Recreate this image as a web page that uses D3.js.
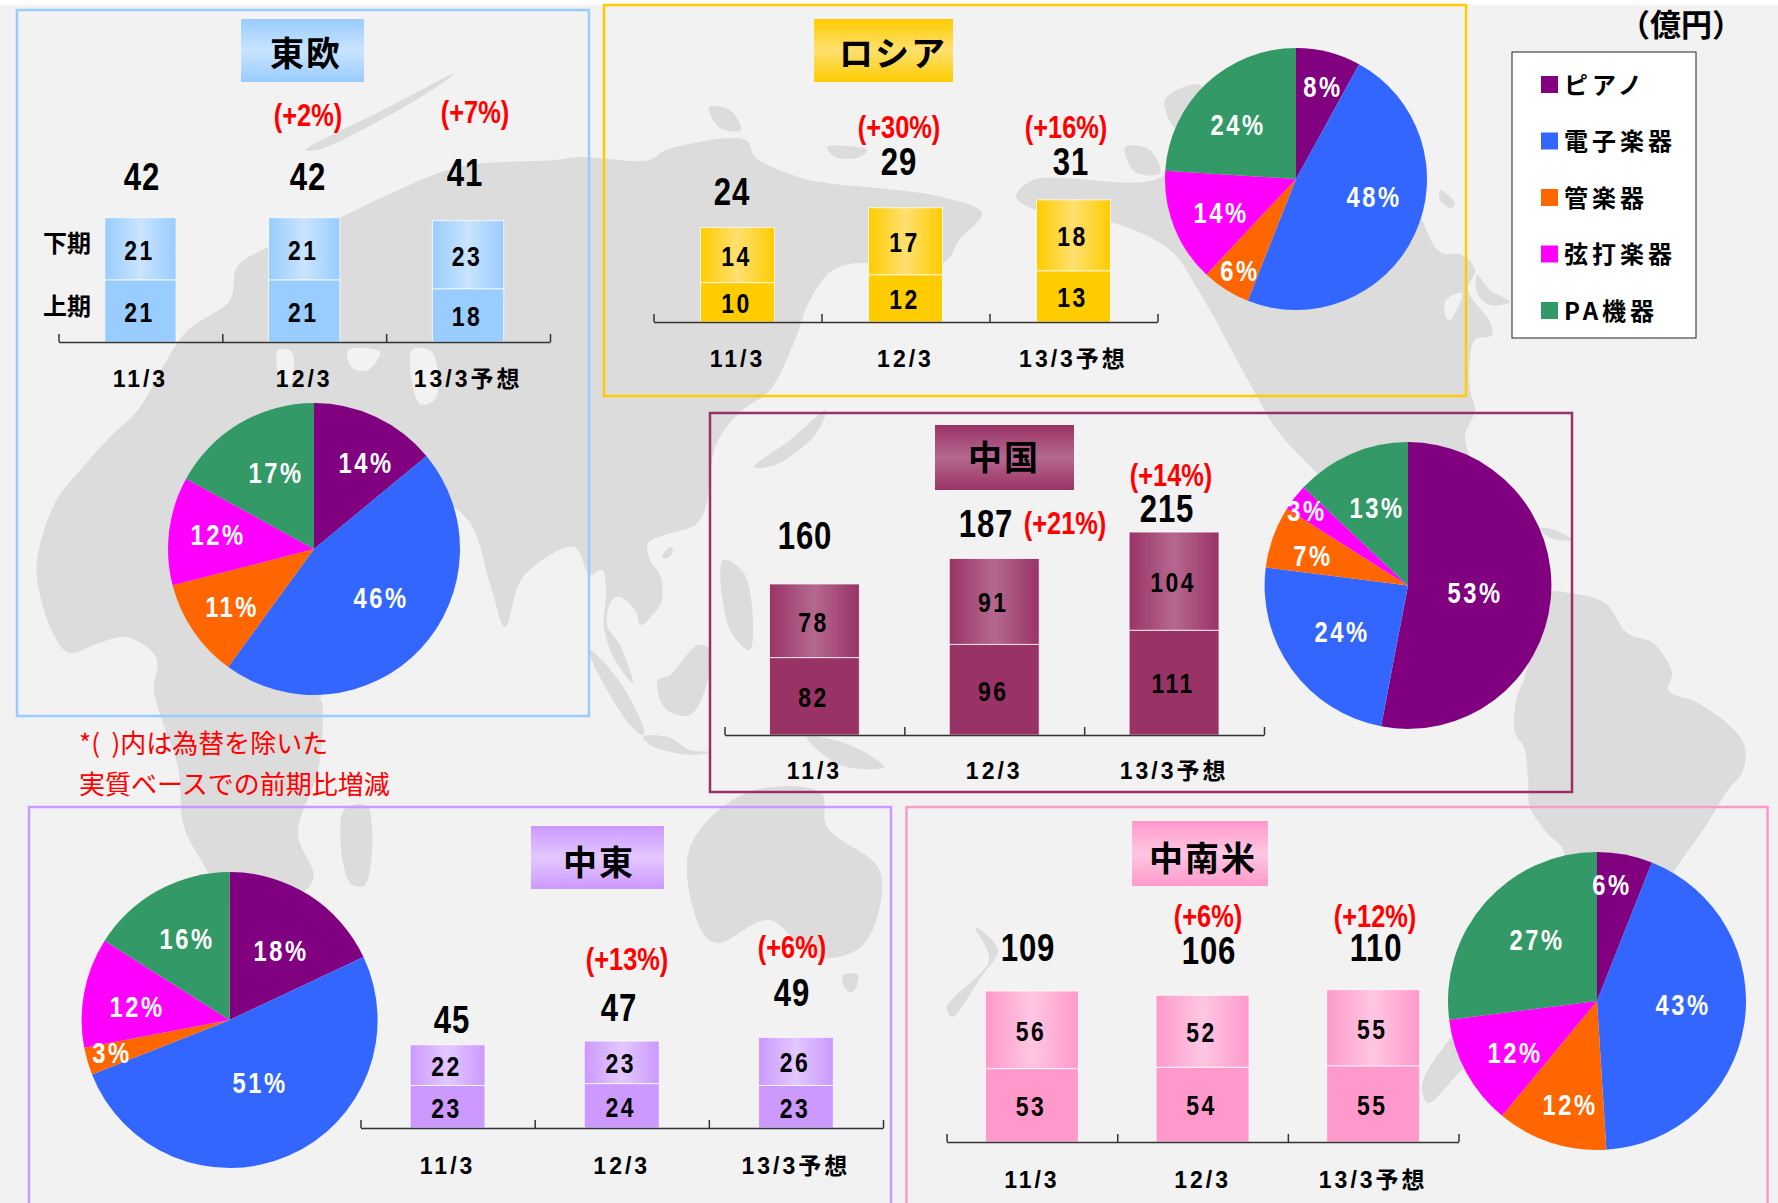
<!DOCTYPE html>
<html>
<head>
<meta charset="utf-8">
<script src="https://cdn.jsdelivr.net/npm/d3@7"></script>
<style>
    html, body { margin: 0; padding: 0; background: #fff; }
    svg { display: block; }
    text { text-anchor: middle; dominant-baseline: central; }
    .num { font-family: "Liberation Sans", "Noto Sans CJK JP", sans-serif; font-weight: 700; }
    .jp { font-family: "Noto Sans CJK JP", sans-serif; font-weight: 700; }
</style>
</head>
<body>
<div id="chart"></div>
<script>
var regions = ["東欧", "ロシア", "中国", "中東", "中南米"];
var years = ["11/3", "12/3", "13/3予想"];
var instruments = ["ピアノ", "電子楽器", "管楽器", "弦打楽器", "PA機器"];

// 億円
var firstHalf = [[21, 21, 18], [10, 12, 13], [82, 96, 111], [23, 24, 23], [53, 54, 55]];
var secondHalf = [[21, 21, 23], [14, 17, 18], [78, 91, 104], [22, 23, 26], [56, 52, 55]];
var totals = [[42, 42, 41], [24, 29, 31], [160, 187, 215], [45, 47, 49], [109, 106, 110]];
var growth = [
    ["", "(+2%)", "(+7%)"],
    ["", "(+30%)", "(+16%)"],
    ["", "(+21%)", "(+14%)"],
    ["", "(+13%)", "(+6%)"],
    ["", "(+6%)", "(+12%)"]
];
var shares = [
    [14, 46, 11, 12, 17],
    [8, 48, 6, 14, 24],
    [53, 24, 7, 3, 13],
    [18, 51, 3, 12, 16],
    [6, 43, 12, 12, 27]
];

var sliceColors = ["#800080", "#3366ff", "#ff6600", "#ff00ff", "#339966"];
var regionColors = [
    {dark: "#99ccff", light: "#c9e4ff"},
    {dark: "#ffcc00", light: "#ffe070"},
    {dark: "#993366", light: "#b5688f"},
    {dark: "#cc99ff", light: "#e2c8ff"},
    {dark: "#ff99cc", light: "#ffc6e2"}
];

// where each panel sits on the page
var layouts = [
    {
        box: [17, 10, 572, 706], title: [241, 19, 123, 63], titleText: [306, 53],
        axis: [58.5, 550], base: 342, unit: 2.96, pad: 0.565,
        pie: [314, 549, 146],
        pieLabels: [[366, 463], [381, 598], [232, 607], [218, 535], [276, 473]],
        totalPos: [[142, 177], [308, 177], [465, 173]],
        growthPos: [null, [308, 115], [475, 112]],
        yearY: 379
    },
    {
        box: [604, 5, 862, 391], title: [814, 19, 139, 63], titleText: [893, 53],
        axis: [653.5, 1157.5], base: 322, unit: 3.94, pad: 0.56,
        pie: [1296, 179, 131],
        pieLabels: [[1323, 87], [1374, 197], [1240, 271], [1221, 213], [1238, 125]],
        totalPos: [[732, 192], [899, 162], [1071, 162]],
        growthPos: [null, [899, 127], [1066, 127]],
        yearY: 359
    },
    {
        box: [710, 413, 862, 379], title: [935, 425, 139, 65], titleText: [1004, 457],
        axis: [724.5, 1264], base: 735, unit: 0.944, pad: 0.5,
        pie: [1408, 585.5, 143.4],
        pieLabels: [[1475, 593], [1342, 632], [1313, 556], [1307, 511], [1377, 508]],
        totalPos: [[805, 536], [986, 524], [1167, 509]],
        growthPos: [null, [1065, 523], [1171, 475]],
        yearY: 771
    },
    {
        box: [29, 807, 862, 500], title: [531, 826, 133, 63], titleText: [599, 862],
        axis: [360.5, 883], base: 1128, unit: 1.85, pad: 0.57,
        pie: [229.6, 1020, 148],
        pieLabels: [[281, 951], [260, 1083], [112, 1053], [137, 1007], [187, 939]],
        totalPos: [[452, 1020], [619, 1008], [792, 993]],
        growthPos: [null, [627, 959], [792, 947]],
        yearY: 1166
    },
    {
        box: [906.5, 807, 861, 500], title: [1132, 821, 136, 65], titleText: [1203, 858],
        axis: [946.6, 1458.5], base: 1142, unit: 1.385, pad: 0.455,
        pie: [1597, 1001, 149],
        pieLabels: [[1612, 885], [1683, 1005], [1570, 1105], [1515, 1053], [1537, 940]],
        totalPos: [[1028, 948], [1209, 951], [1376, 948]],
        growthPos: [null, [1208, 916], [1375, 916]],
        yearY: 1180
    }
];

// rough coastline of the backdrop map, page pixels
var landShapes = [
    // Africa + Eurasia
    [[138, 410], [185, 333], [230, 300], [237, 267], [268, 247], [341, 217], [383, 197], [459, 167], [555, 160], [580, 157],
     [649, 160], [666, 150], [746, 140], [755, 157], [798, 177], [827, 183], [896, 190], [942, 197], [982, 213], [959, 240],
     [947, 260], [901, 273], [867, 263], [833, 270], [810, 300], [795, 340], [770, 390], [740, 412], [716, 445], [705, 510],
     [695, 525], [665, 535], [648, 543], [650, 560], [660, 575], [662, 600], [655, 612], [641, 625], [635, 610], [620, 597],
     [612, 600], [607, 625], [620, 645], [633, 683], [615, 660], [604, 628], [606, 590], [602, 570], [590, 575], [574, 547],
     [523, 577], [505, 627], [491, 587], [468, 520], [430, 500], [380, 600], [321, 697], [312, 713], [321, 700], [319, 767],
     [298, 833], [313, 880], [262, 915], [230, 905], [201, 860], [184, 827], [178, 767], [161, 717], [154, 690], [156, 657],
     [126, 637], [99, 643], [69, 653], [53, 633], [39, 590], [37, 560], [55, 503], [83, 467], [110, 437]],
    // Madagascar
    [[344, 810], [367, 806], [365, 885], [350, 883]],
    // Scandinavia strip
    [[306, 150], [383, 110], [455, 73], [432, 90], [375, 123], [318, 150]],
    // North America
    [[1016, 197], [1033, 180], [1154, 180], [1200, 150], [1300, 120], [1400, 180], [1440, 252], [1462, 255], [1475, 270],
     [1468, 290], [1490, 322], [1492, 335], [1475, 340], [1470, 358], [1470, 390], [1475, 410], [1465, 437], [1480, 480],
     [1500, 560], [1420, 520], [1335, 490], [1314, 470], [1277, 430], [1248, 380], [1200, 293], [1170, 250], [1110, 222], [1050, 215]],
    [[1477, 275], [1490, 290], [1510, 302], [1490, 305], [1478, 295]],
    [[1440, 190], [1455, 203], [1450, 208], [1440, 200]],
    // South America
    [[1569, 593], [1605, 603], [1627, 633], [1653, 643], [1672, 673], [1668, 690], [1698, 703], [1731, 727], [1745, 747],
     [1742, 773], [1728, 790], [1705, 827], [1671, 877], [1640, 950], [1580, 1010], [1500, 1040], [1462, 1070], [1428, 1103],
     [1422, 1085], [1445, 1045], [1500, 980], [1564, 853], [1547, 833], [1530, 807], [1528, 780], [1524, 747], [1515, 733],
     [1517, 697], [1524, 680], [1550, 593]],
    // Australia, Tasmania, New Zealand
    [[689, 850], [703, 933], [718, 943], [769, 920], [815, 957], [861, 947], [881, 900], [878, 867], [827, 827], [821, 793], [746, 793]],
    [[843, 975], [858, 975], [853, 992], [846, 990]],
    [[975, 927], [989, 960], [947, 1007], [952, 1017], [981, 977], [998, 950]],
    // South East Asia islands
    [[590, 650], [602, 660], [625, 690], [644, 730], [643, 735], [630, 725], [607, 690], [590, 655]],
    [[643, 737], [668, 737], [690, 750], [710, 752], [690, 755], [650, 745]],
    [[658, 680], [670, 675], [698, 645], [710, 650], [705, 690], [690, 715], [670, 712], [660, 700]],
    [[662, 557], [670, 547], [673, 550], [668, 558]],
    [[723, 560], [745, 575], [750, 650], [730, 630]],
    [[807, 737], [850, 745], [884, 767], [840, 765]],
    // Japan
    [[754, 467], [790, 440], [826, 410], [815, 435], [775, 465]],
    // cuba, arctic islands
    [[1539, 528], [1555, 530], [1572, 540], [1550, 538]],
    [[1165, 100], [1200, 85], [1211, 125], [1180, 133]],
    [[1125, 147], [1150, 150], [1160, 173], [1135, 172]],
    [[827, 147], [867, 150], [860, 157], [835, 157]],
    [[709, 107], [730, 110], [741, 130], [720, 128]]
];
// seas cut out of the land
var seaShapes = [
    [[278, 350], [292, 352], [290, 385], [280, 378]],
    [[348, 350], [380, 352], [368, 370], [352, 368]],
    [[412, 350], [432, 352], [436, 398], [420, 404]],
    [[1446, 300], [1462, 293], [1450, 320], [1446, 318]]
];

var width = 1778, height = 1203;
var svg = d3.select("#chart").append("svg").attr("width", width).attr("height", height);
var defs = svg.append("defs");

svg.append("rect").attr("y", 5).attr("width", width).attr("height", height - 5).attr("fill", "#f2f2f2");

var coast = d3.line().curve(d3.curveCatmullRomClosed.alpha(0.5));
svg.append("g").selectAll("path").data(landShapes).join("path").attr("d", coast).attr("fill", "#dcdcdc");
svg.append("g").selectAll("path").data(seaShapes).join("path").attr("d", coast).attr("fill", "#f2f2f2");

regionColors.forEach(function (c, i) {
    var across = defs.append("linearGradient").attr("id", "across" + i);
    var down = defs.append("linearGradient").attr("id", "down" + i).attr("x2", 0).attr("y2", 1);
    [across, down].forEach(function (g) {
        g.append("stop").attr("offset", "0%").attr("stop-color", c.dark);
        g.append("stop").attr("offset", "50%").attr("stop-color", c.light);
        g.append("stop").attr("offset", "100%").attr("stop-color", c.dark);
    });
});

// the digits in the original are a condensed bold, so squeeze the sans
function squeeze(sel, fx, fy) {
    sel.attr("transform", function (d, i) {
        return "translate(" + fx(d, i) + "," + fy(d, i) + ") scale(0.82,1)";
    });
}

var color = d3.scaleOrdinal(instruments, sliceColors);
var stack = d3.stack().keys(["first", "second"]);
var pie = d3.pie().sort(null).value(function (d) { return d.value; });

regions.forEach(function (name, r) {
    var l = layouts[r];
    var g = svg.append("g");

    g.append("rect")
        .attr("x", l.box[0]).attr("y", l.box[1]).attr("width", l.box[2]).attr("height", l.box[3])
        .attr("fill", "none").attr("stroke", regionColors[r].dark).attr("stroke-width", 2.5);

    g.append("rect")
        .attr("x", l.title[0]).attr("y", l.title[1]).attr("width", l.title[2]).attr("height", l.title[3])
        .attr("fill", "url(#down" + r + ")");
    g.append("text").attr("class", "jp")
        .attr("x", l.titleText[0]).attr("y", l.titleText[1] - 2)
        .attr("font-size", 34).attr("letter-spacing", 2).text(name);

    // bars
    var x = d3.scaleBand().domain(years).range(l.axis).paddingInner(l.pad).paddingOuter(l.pad / 2);
    var maxTotal = d3.max(totals[r]);
    var y = d3.scaleLinear().domain([0, maxTotal]).range([l.base, l.base - maxTotal * l.unit]);
    var rows = years.map(function (year, i) {
        return {year: year, first: firstHalf[r][i], second: secondHalf[r][i]};
    });
    var layers = stack(rows);

    var layer = g.selectAll(".layer").data(layers).join("g").attr("class", "layer")
        .attr("fill", function (d, i) { return i == 0 ? regionColors[r].dark : "url(#across" + r + ")"; });
    layer.selectAll("rect").data(function (d) { return d; }).join("rect")
        .attr("x", function (d) { return x(d.data.year); })
        .attr("y", function (d) { return y(d[1]); })
        .attr("width", x.bandwidth())
        .attr("height", function (d) { return y(d[0]) - y(d[1]); })
        .attr("stroke", "#fff").attr("stroke-opacity", 0.75).attr("stroke-width", 1);
    layer.selectAll("text").data(function (d) { return d; }).join("text").attr("class", "num")
        .attr("fill", "#000").attr("font-size", 28).attr("letter-spacing", 3)
        .text(function (d) { return d[1] - d[0]; })
        .call(squeeze,
            function (d) { return x(d.data.year) + x.bandwidth() / 2 - 1; },
            function (d) { return (y(d[0]) + y(d[1])) / 2 + 1; });

    // axis with ticks between the bars
    var edges = d3.scaleLinear().domain([0, years.length]).range(l.axis);
    var axis = g.append("g").attr("transform", "translate(0," + l.base + ")")
        .call(d3.axisBottom(edges).tickValues(d3.range(years.length + 1)).tickFormat("").tickSizeInner(-8).tickSizeOuter(0));
    axis.selectAll("path, line").attr("stroke", "#333").attr("stroke-width", 1.5);

    g.selectAll(".year").data(years).join("text").attr("class", "num year")
        .attr("x", function (d) { return x(d) + x.bandwidth() / 2; })
        .attr("y", l.yearY)
        .attr("font-size", 23).attr("letter-spacing", 3).text(function (d) { return d; });

    g.selectAll(".total").data(totals[r]).join("text").attr("class", "num total")
        .attr("font-size", 38).attr("letter-spacing", 1).text(function (d) { return d; })
        .call(squeeze,
            function (d, i) { return l.totalPos[i][0]; },
            function (d, i) { return l.totalPos[i][1]; });

    g.selectAll(".growth").data(growth[r].filter(function (d) { return d != ""; })).join("text").attr("class", "num growth")
        .attr("fill", "#ff0000").attr("font-size", 31).text(function (d) { return d; })
        .call(squeeze,
            function (d, i) { return l.growthPos[i + 1][0]; },
            function (d, i) { return l.growthPos[i + 1][1]; });

    // pie
    var slices = pie(instruments.map(function (n, i) { return {name: n, value: shares[r][i]}; }));
    var arc = d3.arc().innerRadius(0).outerRadius(l.pie[2]);
    var pg = g.append("g").attr("transform", "translate(" + l.pie[0] + "," + l.pie[1] + ")");
    pg.selectAll("path").data(slices).join("path")
        .attr("d", arc)
        .attr("fill", function (d) { return color(d.data.name); });
    g.selectAll(".share").data(slices).join("text").attr("class", "num share")
        .attr("fill", "#fff").attr("font-size", 29).attr("letter-spacing", 3)
        .text(function (d) { return d.data.value + "%"; })
        .call(squeeze,
            function (d, i) { return l.pieLabels[i][0]; },
            function (d, i) { return l.pieLabels[i][1]; });
});

// half labels, first panel only
var halves = ["下期", "上期"];
svg.selectAll(".half").data(halves).join("text").attr("class", "jp half")
    .attr("x", 67)
    .attr("y", function (d, i) { return i == 0 ? 241 : 304; })
    .attr("font-size", 24).text(function (d) { return d; });

// legend
var legendY = d3.scalePoint().domain(instruments).range([85, 311]);
var legend = svg.append("g");
legend.append("rect").attr("x", 1512).attr("y", 52).attr("width", 184).attr("height", 286)
    .attr("fill", "#fff").attr("stroke", "#222").attr("stroke-width", 1);
legend.selectAll("rect.key").data(instruments).join("rect").attr("class", "key")
    .attr("x", 1541).attr("y", function (d) { return legendY(d) - 9; })
    .attr("width", 17).attr("height", 17).attr("fill", function (d) { return color(d); });
legend.selectAll("text").data(instruments).join("text").attr("class", "jp")
    .attr("x", 1564).attr("y", function (d) { return legendY(d) - 2; })
    .attr("font-size", 24).attr("letter-spacing", 4)
    .style("text-anchor", "start").text(function (d) { return d; });

svg.append("text").attr("class", "jp").attr("x", 1681).attr("y", 22).attr("font-size", 31).text("（億円）");

// footnote
var notes = ["*(\u00a0\u00a0)内は為替を除いた", "実質ベースでの前期比増減"];
svg.selectAll(".note").data(notes).join("text").attr("class", "note")
    .attr("x", 79)
    .attr("y", function (d, i) { return i == 0 ? 741 : 782; })
    .attr("font-family", "'Noto Sans CJK JP', sans-serif")
    .attr("font-size", 26).attr("fill", "#ff0000")
    .style("text-anchor", "start").text(function (d) { return d; });
</script>
</body>
</html>
